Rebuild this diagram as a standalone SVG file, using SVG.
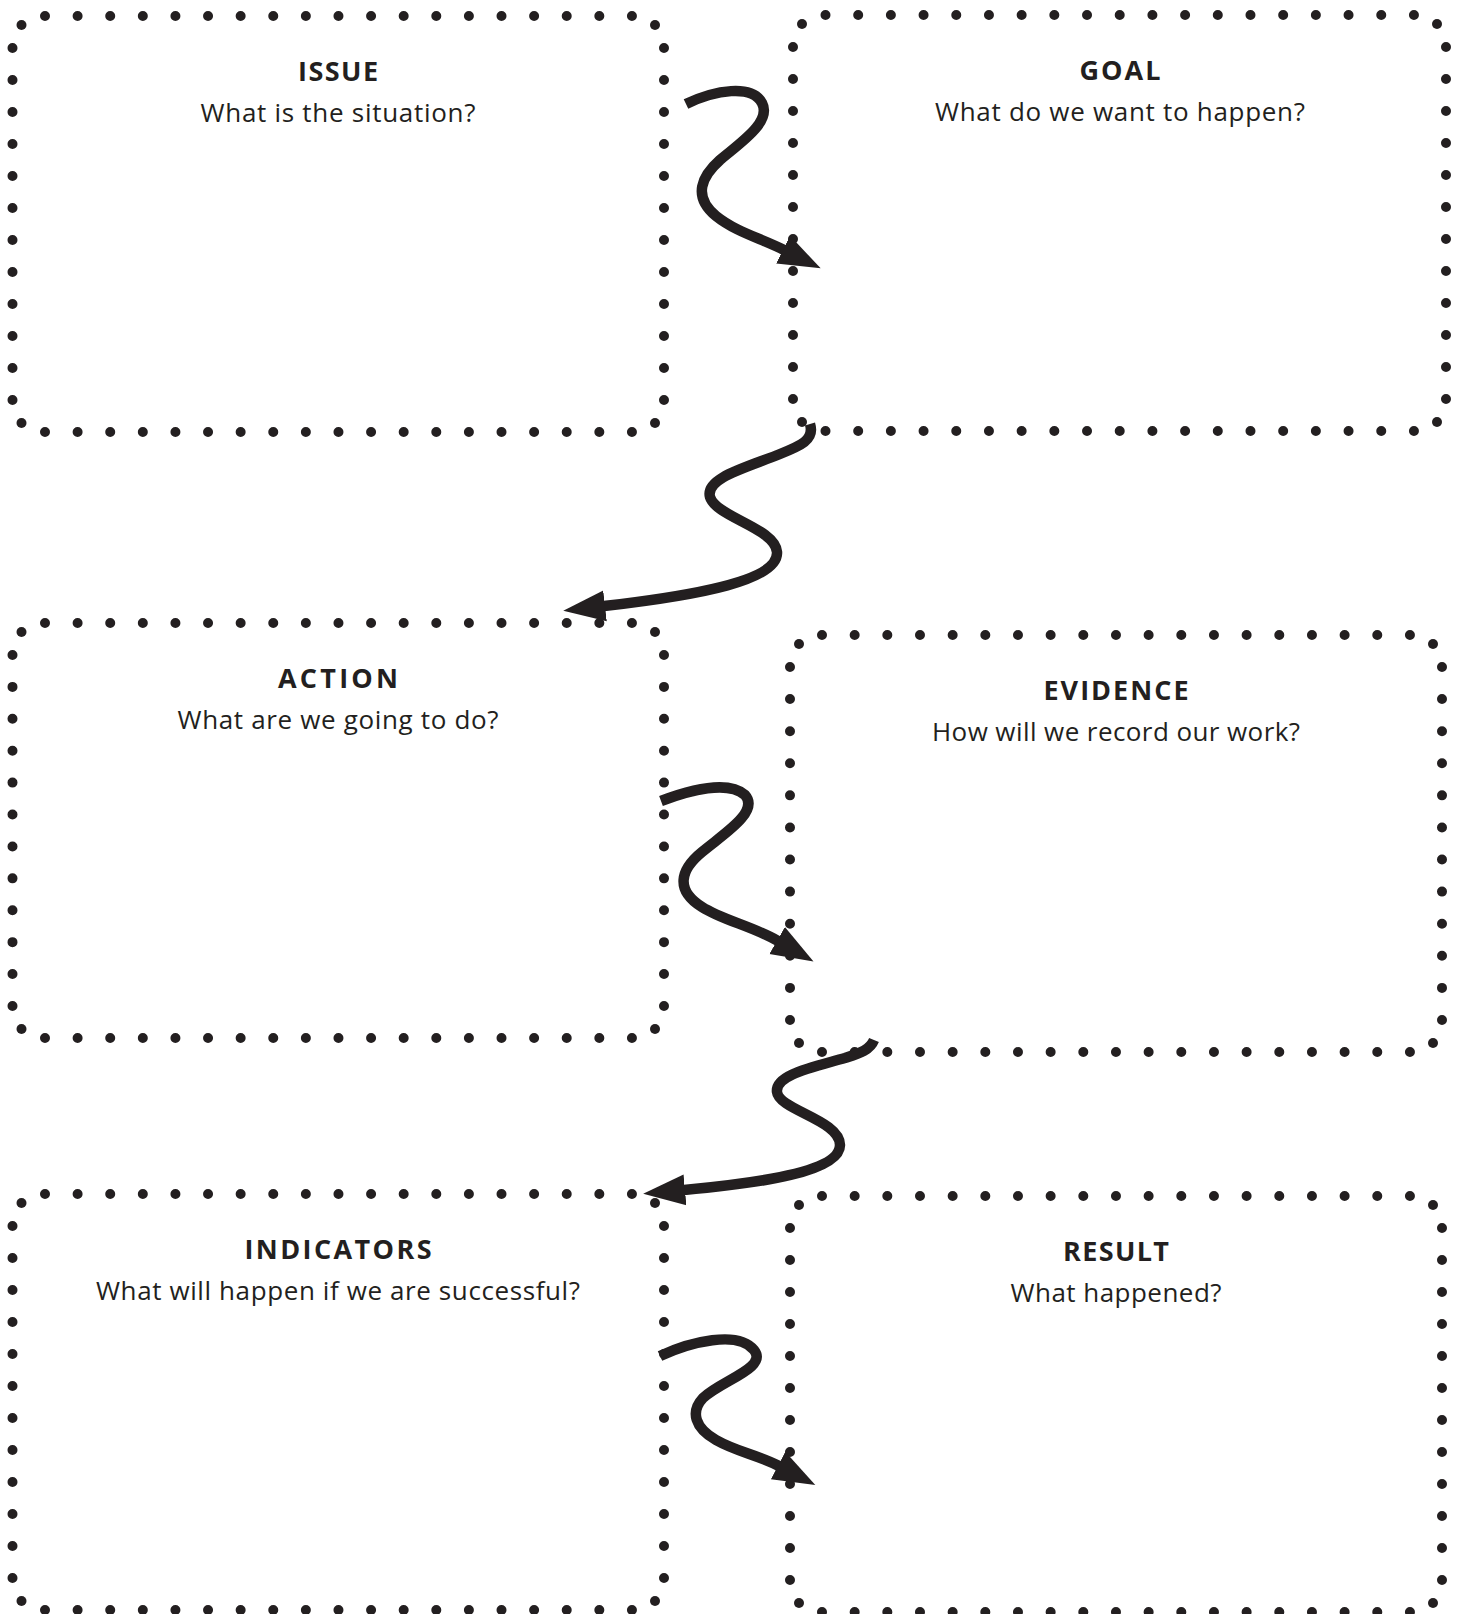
<svg xmlns="http://www.w3.org/2000/svg" width="1462" height="1614" viewBox="0 0 1462 1614">
<defs>
<style>
.d{stroke:#231f20;stroke-width:10;stroke-linecap:round;stroke-dasharray:0 0.9999;fill:none}
.c{fill:#231f20}
.t{font-family:"Open Sans","Liberation Sans",sans-serif;font-weight:700;font-size:27px;fill:#231f20;text-anchor:middle}
.s{font-family:"Open Sans","Liberation Sans",sans-serif;font-weight:400;font-size:26px;fill:#231f20;text-anchor:middle}
.a{fill:none;stroke:#231f20;stroke-width:10.5;stroke-linecap:butt;marker-end:url(#ah)}
</style>
<marker id="ah" markerUnits="userSpaceOnUse" markerWidth="44" markerHeight="34" viewBox="0 -17 44 34" refX="1" refY="0" orient="auto">
<path d="M0,-15.5 L42,0 L0,15.5 Z" fill="#231f20"/>
</marker>
</defs>
<rect width="1462" height="1614" fill="#ffffff"/>

<g id="issue">
<line class="d" x1="45" y1="16" x2="632" y2="16" pathLength="18"/>
<line class="d" x1="45" y1="432" x2="632" y2="432" pathLength="18"/>
<line class="d" x1="12.5" y1="48" x2="12.5" y2="400" pathLength="11"/>
<line class="d" x1="664" y1="48" x2="664" y2="400" pathLength="11"/>
<circle class="c" cx="21.5" cy="25" r="5"/><circle class="c" cx="655" cy="25" r="5"/>
<circle class="c" cx="21.5" cy="423" r="5"/><circle class="c" cx="655" cy="423" r="5"/>
<text class="t" x="338" y="81" textLength="80">ISSUE</text>
<text class="s" x="338" y="122" textLength="275">What is the situation?</text>
</g>

<g id="goal">
<line class="d" x1="825.5" y1="15" x2="1414" y2="15" pathLength="18"/>
<line class="d" x1="825.5" y1="431" x2="1414" y2="431" pathLength="18"/>
<line class="d" x1="793" y1="47" x2="793" y2="399" pathLength="11"/>
<line class="d" x1="1446" y1="47" x2="1446" y2="399" pathLength="11"/>
<circle class="c" cx="802" cy="24" r="5"/><circle class="c" cx="1437" cy="24" r="5"/>
<circle class="c" cx="802" cy="422" r="5"/><circle class="c" cx="1437" cy="422" r="5"/>
<text class="t" x="1120" y="80" textLength="81">GOAL</text>
<text class="s" x="1120" y="121" textLength="370">What do we want to happen?</text>
</g>

<g id="action">
<line class="d" x1="45" y1="623" x2="632" y2="623" pathLength="18"/>
<line class="d" x1="45" y1="1038" x2="632" y2="1038" pathLength="18"/>
<line class="d" x1="12.5" y1="655" x2="12.5" y2="1006" pathLength="11"/>
<line class="d" x1="664" y1="655" x2="664" y2="1006" pathLength="11"/>
<circle class="c" cx="21.5" cy="632" r="5"/><circle class="c" cx="655" cy="632" r="5"/>
<circle class="c" cx="21.5" cy="1029" r="5"/><circle class="c" cx="655" cy="1029" r="5"/>
<text class="t" x="338" y="688" textLength="120">ACTION</text>
<text class="s" x="338" y="729" textLength="321">What are we going to do?</text>
</g>

<g id="evidence">
<line class="d" x1="822" y1="635" x2="1410" y2="635" pathLength="18"/>
<line class="d" x1="822" y1="1052" x2="1410" y2="1052" pathLength="18"/>
<line class="d" x1="790" y1="667" x2="790" y2="1020" pathLength="11"/>
<line class="d" x1="1442" y1="667" x2="1442" y2="1020" pathLength="11"/>
<circle class="c" cx="799" cy="644" r="5"/><circle class="c" cx="1433" cy="644" r="5"/>
<circle class="c" cx="799" cy="1043" r="5"/><circle class="c" cx="1433" cy="1043" r="5"/>
<text class="t" x="1116" y="700" textLength="145">EVIDENCE</text>
<text class="s" x="1116" y="741" textLength="368">How will we record our work?</text>
</g>

<g id="indicators">
<line class="d" x1="45" y1="1194" x2="632" y2="1194" pathLength="18"/>
<line class="d" x1="45" y1="1610" x2="632" y2="1610" pathLength="18"/>
<line class="d" x1="12.5" y1="1226" x2="12.5" y2="1578" pathLength="11"/>
<line class="d" x1="664" y1="1226" x2="664" y2="1578" pathLength="11"/>
<circle class="c" cx="21.5" cy="1203" r="5"/><circle class="c" cx="655" cy="1203" r="5"/>
<circle class="c" cx="21.5" cy="1601" r="5"/><circle class="c" cx="655" cy="1601" r="5"/>
<text class="t" x="338" y="1259" textLength="187">INDICATORS</text>
<text class="s" x="338" y="1300" textLength="484">What will happen if we are successful?</text>
</g>

<g id="result">
<line class="d" x1="822" y1="1196" x2="1410" y2="1196" pathLength="18"/>
<line class="d" x1="822" y1="1612" x2="1410" y2="1612" pathLength="18"/>
<line class="d" x1="790" y1="1228" x2="790" y2="1580" pathLength="11"/>
<line class="d" x1="1442" y1="1228" x2="1442" y2="1580" pathLength="11"/>
<circle class="c" cx="799" cy="1205" r="5"/><circle class="c" cx="1433" cy="1205" r="5"/>
<circle class="c" cx="799" cy="1603" r="5"/><circle class="c" cx="1433" cy="1603" r="5"/>
<text class="t" x="1116" y="1261" textLength="106">RESULT</text>
<text class="s" x="1116" y="1302" textLength="211">What happened?</text>
</g>

<g id="connectors">
<path class="a" d="M 686 104 C 715 90, 752 84, 762 103 C 772 122, 740 143, 720 160 C 702 176, 692 196, 716 216 C 736 232, 760 238, 784 250"/>
<path class="a" d="M 810 424 C 815 440, 800 446, 780 454 C 745 468, 705 478, 710 497 C 716 517, 775 528, 777 552 C 779 580, 700 595, 604 606"/>
<path class="a" d="M 661 801 C 690 790, 728 780, 745 795 C 760 812, 722 835, 702 852 C 680 870, 675 890, 702 907 C 722 920, 752 926, 778 941"/>
<path class="a" d="M 874 1040 C 870 1050, 860 1053, 845 1058 C 810 1068, 775 1075, 777 1092 C 779 1110, 840 1120, 840 1145 C 840 1172, 760 1183, 684 1190"/>
<path class="a" d="M 660 1356 C 690 1342, 738 1330, 754 1350 C 768 1368, 722 1380, 703 1398 C 690 1412, 695 1428, 716 1440 C 737 1452, 758 1455, 779 1466"/>
</g>
</svg>
